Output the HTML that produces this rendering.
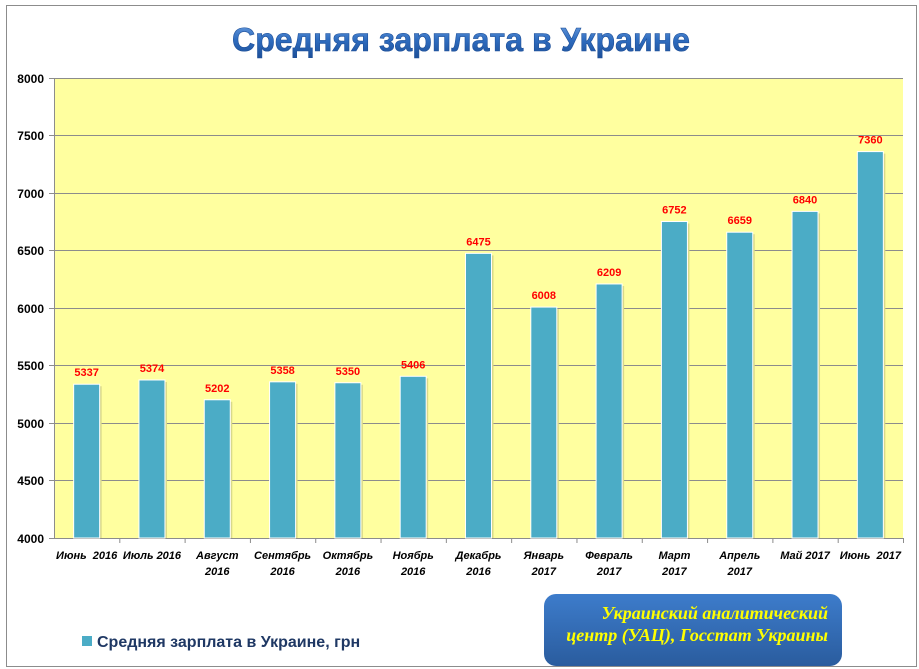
<!DOCTYPE html>
<html><head><meta charset="utf-8"><style>
body{margin:0;background:#fff;width:919px;height:669px;overflow:hidden}
svg{display:block;font-family:"Liberation Sans",sans-serif}
</style></head><body>
<svg width="919" height="669" xmlns="http://www.w3.org/2000/svg">
<defs>
<linearGradient id="tg" x1="0" y1="0" x2="0" y2="1"><stop offset="0" stop-color="#6fa0e0"/><stop offset="0.5" stop-color="#2f6dc0"/><stop offset="1" stop-color="#1d4f98"/></linearGradient>
<linearGradient id="bg" x1="0" y1="0" x2="0" y2="1"><stop offset="0" stop-color="#3d7ccb"/><stop offset="1" stop-color="#2a5c9e"/></linearGradient>
</defs>
<rect x="6.5" y="5.5" width="910" height="661" fill="#fff" stroke="#8c8c8c"/>
<text x="461" y="51" text-anchor="middle" font-size="33" font-weight="bold" fill="url(#tg)" stroke="#1d4f98" stroke-width="0.6" textLength="458" lengthAdjust="spacingAndGlyphs">Средняя зарплата в Украине</text>
<rect x="54" y="78" width="849" height="460" fill="#ffff9f"/>
<g stroke="#8c8c8c" stroke-width="1">
<line x1="49" x2="903" y1="78.5" y2="78.5"/><line x1="49" x2="903" y1="135.5" y2="135.5"/>
<line x1="49" x2="903" y1="193.5" y2="193.5"/><line x1="49" x2="903" y1="250.5" y2="250.5"/>
<line x1="49" x2="903" y1="308.5" y2="308.5"/><line x1="49" x2="903" y1="365.5" y2="365.5"/>
<line x1="49" x2="903" y1="423.5" y2="423.5"/><line x1="49" x2="903" y1="480.5" y2="480.5"/>
<line x1="49" x2="903" y1="538.5" y2="538.5"/><line x1="54.5" x2="54.5" y1="78" y2="538"/>
</g>
<g font-size="12" font-weight="bold" text-anchor="end" fill="#000">
<text x="44" y="83">8000</text><text x="44" y="140">7500</text><text x="44" y="198">7000</text>
<text x="44" y="255">6500</text><text x="44" y="313">6000</text><text x="44" y="370">5500</text>
<text x="44" y="428">5000</text><text x="44" y="485">4500</text><text x="44" y="543">4000</text>
</g>
<g id="bars"></g>
<rect x="544" y="594" width="298" height="72" rx="12" fill="url(#bg)"/>
<g font-family="Liberation Serif,serif" font-style="italic" font-weight="bold" font-size="18" fill="#ffff00" text-anchor="end">
<text x="828" y="619">Украинский аналитический</text>
<text x="828" y="641">центр (УАЦ), Госстат Украины</text>
</g>
<rect x="82" y="636" width="10" height="10" fill="#4bacc6"/>
<text x="97" y="647" font-size="16" font-weight="bold" fill="#1f3864">Средняя зарплата в Украине, грн</text>
</svg>
<script>
var v=[5337,5374,5202,5358,5350,5406,6475,6008,6209,6752,6659,6840,7360];
var l=[["Июнь  2016"],["Июль 2016"],["Август","2016"],["Сентябрь","2016"],["Октябрь","2016"],["Ноябрь","2016"],["Декабрь","2016"],["Январь","2017"],["Февраль","2017"],["Март","2017"],["Апрель","2017"],["Май 2017"],["Июнь  2017"]];
var g=document.getElementById("bars"),s="",w=849/13;
for(var i=0;i<13;i++){var c=54+w*(i+.5),y=538-(v[i]-4000)*0.115;
s+='<line x1="'+(54+w*(i+1)+.5)+'" x2="'+(54+w*(i+1)+.5)+'" y1="538" y2="543" stroke="#8c8c8c"/>';
s+='<rect x="'+(c-11)+'" y="'+(y+2)+'" width="26" height="'+(536-y)+'" fill="#d9d98a"/>';
s+='<rect x="'+(c-13)+'" y="'+y+'" width="26" height="'+(538-y)+'" fill="#4bacc6" stroke="#fff" stroke-width="1"/>';
s+='<text x="'+c+'" y="'+(y-8)+'" text-anchor="middle" font-size="11" font-weight="bold" fill="#ff0000">'+v[i]+'</text>';
for(var k=0;k<l[i].length;k++)s+='<text x="'+c+'" y="'+(559+k*16)+'" text-anchor="middle" font-size="11" font-weight="bold" font-style="italic" fill="#000" xml:space="preserve">'+l[i][k]+'</text>';}
g.innerHTML=s;
</script>
</body></html>
